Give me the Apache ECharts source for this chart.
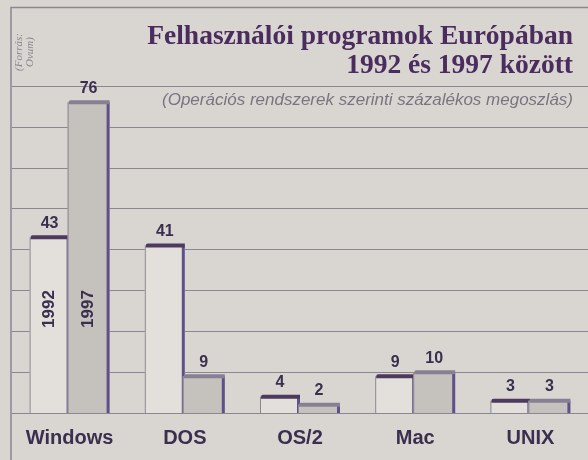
<!DOCTYPE html>
<html>
<head>
<meta charset="utf-8">
<script src="https://cdn.jsdelivr.net/npm/echarts@6/dist/echarts.min.js"></script>
<style>
  html, body { margin: 0; padding: 0; background: #d9d6d1; }
  #chart { width: 588px; height: 460px; }
</style>
</head>
<body>
<div id="chart"></div>
<script>
const categories = ['Windows', 'DOS', 'OS/2', 'Mac', 'UNIX']
const years = ['1992', '1997']
const share1992 = [43, 41, 4, 9, 3]
const share1997 = [76, 9, 2, 10, 3]
const yTicks = [0, 10, 20, 30, 40, 50, 60, 70, 80]

const ink = '#3a2f4e'
const gridColor = '#8b8792'
const barW = 40

// one renderer for both years, yearIdx picks the side and the look
function makeRender(yearIdx) {
  return function (params, api) {
    const idx = api.value(0)
    const v = api.value(1)
    const base = api.coord([idx, 0])
    const top = api.coord([idx, v])[1]
    const cx = base[0]
    const by = base[1]
    const x0 = yearIdx === 0 ? cx - barW : cx - 2
    const x1 = yearIdx === 0 ? cx : cx + barW
    const h = by - top
    const children = [{
      type: 'rect',
      shape: { x: x0, y: top, width: x1 - x0, height: h },
      style: { fill: yearIdx === 0 ? '#e3e0db' : '#c5c1bd' }
    }, {
      type: 'line',
      shape: { x1: x0 + 0.5, y1: top, x2: x0 + 0.5, y2: by },
      style: { stroke: gridColor, lineWidth: 1 }
    }, {
      type: 'rect',
      shape: { x: x1 - 3, y: top, width: 3, height: h },
      style: { fill: '#5f5088' }
    }, {
      type: 'rect',
      shape: { x: x0 + 1, y: top - 2, width: x1 - x0 - 1, height: 4, r: [2, 0, 0, 0] },
      style: { fill: yearIdx === 0 ? '#4d3a5e' : '#877f93' }
    }, {
      type: 'text',
      x: (x0 + x1) / 2,
      y: top - 6,
      style: {
        text: String(v),
        align: 'center',
        verticalAlign: 'bottom',
        fill: ink,
        font: 'bold 16px "Liberation Sans", Arial, sans-serif'
      }
    }]
    if (params.dataIndex === 0) {
      children.push({
        type: 'text',
        x: (x0 + x1) / 2,
        y: by - 104,
        rotation: Math.PI / 2,
        style: {
          text: years[yearIdx],
          align: 'center',
          verticalAlign: 'middle',
          fill: ink,
          font: 'bold 17px "Liberation Sans", Arial, sans-serif'
        }
      })
    }
    return { type: 'group', children }
  }
}

const chart = echarts.init(document.getElementById('chart'))
chart.setOption({
  backgroundColor: '#d9d6d1',
  animation: false,
  grid: { left: 12, right: -4, top: 86, bottom: 47 },
  graphic: [{
    type: 'polyline',
    shape: { points: [[11, 460], [11, 7.5], [588, 7.5]] },
    style: { stroke: gridColor, lineWidth: 1.5, fill: null }
  }, {
    type: 'text',
    right: 15,
    top: 23,
    style: {
      text: 'Felhasználói programok Európában',
      fill: '#4a2c5e',
      font: 'bold 27.5px "Liberation Serif", "Times New Roman", serif'
    }
  }, {
    type: 'text',
    right: 15,
    top: 52,
    style: {
      text: '1992 és 1997 között',
      fill: '#4a2c5e',
      font: 'bold 27.5px "Liberation Serif", "Times New Roman", serif'
    }
  }, {
    type: 'text',
    right: 15,
    top: 92,
    style: {
      text: '(Operációs rendszerek szerinti százalékos megoszlás)',
      fill: '#7a7482',
      font: 'italic 17px "Liberation Sans", Arial, sans-serif'
    }
  }, {
    type: 'text',
    x: 19,
    y: 52,
    rotation: Math.PI / 2,
    style: {
      text: '(Forrás:',
      align: 'center',
      verticalAlign: 'middle',
      fill: '#8a8590',
      font: 'italic 11px "Liberation Serif", serif'
    }
  }, {
    type: 'text',
    x: 30,
    y: 52,
    rotation: Math.PI / 2,
    style: {
      text: 'Ovum)',
      align: 'center',
      verticalAlign: 'middle',
      fill: '#8a8590',
      font: 'italic 11px "Liberation Serif", serif'
    }
  }],
  xAxis: {
    type: 'category',
    data: categories,
    axisLine: { show: false },
    axisTick: { show: false },
    axisLabel: {
      color: ink,
      fontFamily: '"Liberation Sans", Arial, sans-serif',
      fontWeight: 'bold',
      fontSize: 20,
      margin: 15
    }
  },
  yAxis: {
    type: 'value',
    min: yTicks[0],
    max: yTicks[yTicks.length - 1],
    interval: yTicks[1] - yTicks[0],
    axisLine: { show: false },
    axisTick: { show: false },
    axisLabel: { show: false },
    splitLine: { lineStyle: { color: gridColor, width: 1 } }
  },
  series: [{
    type: 'custom',
    name: years[0],
    renderItem: makeRender(0),
    data: share1992.map((v, i) => [i, v])
  }, {
    type: 'custom',
    name: years[1],
    renderItem: makeRender(1),
    data: share1997.map((v, i) => [i, v])
  }]
})
</script>
</body>
</html>
